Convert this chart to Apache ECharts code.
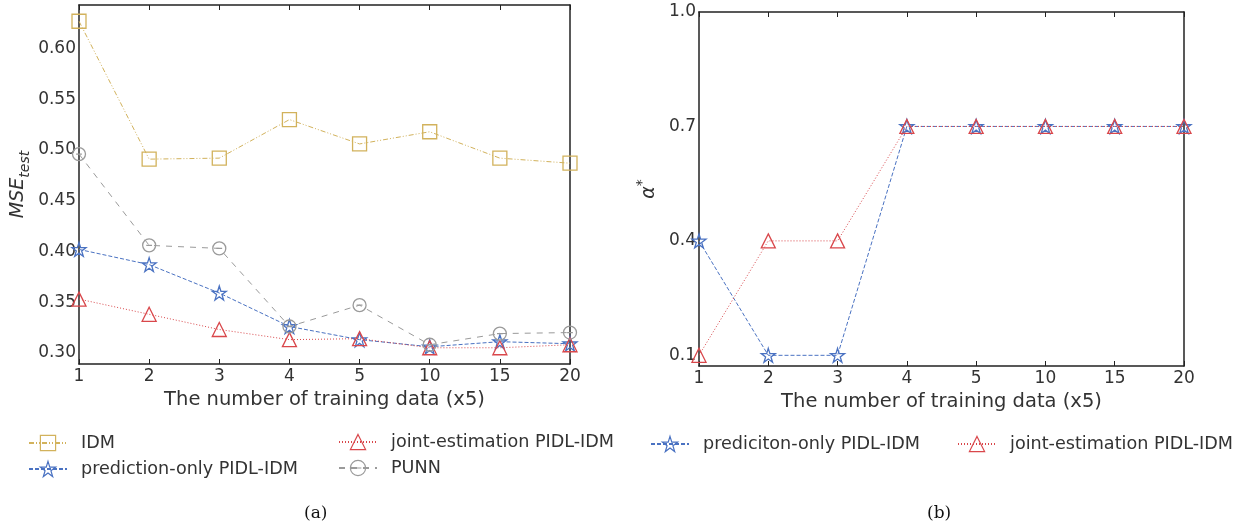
<!DOCTYPE html>
<html>
<head>
<meta charset="utf-8">
<script src="https://cdn.jsdelivr.net/npm/echarts@6/dist/echarts.min.js"></script>
<style>
  html, body { margin: 0; padding: 0; background: #fff; }
  #chart { width: 1246px; height: 526px; }
</style>
</head>
<body>
<div id="chart"></div>
<script>
// x categories (number of training data, x5)
const categories = ['1', '2', '3', '4', '5', '10', '15', '20'];

// (a) MSE on test set
const mseIdm = [0.627, 0.491, 0.492, 0.530, 0.506, 0.518, 0.492, 0.487];
const msePredOnly = [0.402, 0.387, 0.359, 0.326, 0.313, 0.306, 0.311, 0.309];
const mseJoint = [0.353, 0.338, 0.323, 0.313, 0.314, 0.305, 0.305, 0.308];
const msePunn = [0.496, 0.406, 0.403, 0.326, 0.347, 0.308, 0.319, 0.320];
const mseTicks = [0.30, 0.35, 0.40, 0.45, 0.50, 0.55, 0.60];

// (b) alpha*
const alphaPredOnly = [0.4, 0.1, 0.1, 0.7, 0.7, 0.7, 0.7, 0.7];
const alphaJoint = [0.1, 0.4, 0.4, 0.7, 0.7, 0.7, 0.7, 0.7];
const alphaTicks = [0.1, 0.4, 0.7, 1.0];

const TEXT = '#333333';
const AXIS = '#222222';
const C_IDM = '#d2b25c';
const C_PRED = '#4a72c2';
const C_JOINT = '#d9474b';
const C_PUNN = '#9a9a9a';

const STAR = 'path://M50,2 L61,36 L97,36 L68,57 L79,92 L50,71 L21,92 L32,57 L3,36 L39,36 Z';
const OMINUS = 'path://M0,50 A50,50 0 1 1 100,50 A50,50 0 1 1 0,50 Z M28,50 L72,50';

const chart = echarts.init(document.getElementById('chart'));

function xAxes(gridIndex) {
  return [
    {
      type: 'category', gridIndex: gridIndex, data: categories, boundaryGap: false,
      name: 'The number of training data (x5)', nameLocation: 'middle', nameGap: 26,
      nameTextStyle: { color: TEXT, fontSize: 19.5, fontFamily: 'DejaVu Sans' },
      axisLine: { lineStyle: { color: AXIS, width: 1.5 } },
      axisTick: { inside: true, length: 5, alignWithLabel: true, lineStyle: { color: AXIS } },
      axisLabel: { color: TEXT, fontSize: 17, fontFamily: 'DejaVu Sans', margin: 4 },
      splitLine: { show: false }
    },
    {
      type: 'category', gridIndex: gridIndex, data: categories, boundaryGap: false, position: 'top',
      axisLine: { lineStyle: { color: AXIS, width: 1.5 } },
      axisTick: { inside: true, length: 5, lineStyle: { color: AXIS } },
      axisLabel: { show: false },
      splitLine: { show: false }
    }
  ];
}

function yAxes(gridIndex, min, max, ticks, digits, nameCfg) {
  return [
    Object.assign({
      type: 'value', gridIndex: gridIndex, min: min, max: max,
      nameLocation: 'middle',
      axisLine: { show: true, lineStyle: { color: AXIS, width: 1.5 } },
      axisTick: { inside: true, length: 5, customValues: ticks, lineStyle: { color: AXIS } },
      axisLabel: {
        color: TEXT, fontSize: 17, fontFamily: 'DejaVu Sans', margin: 3,
        customValues: ticks, formatter: (v) => v.toFixed(digits)
      },
      splitLine: { show: false }
    }, nameCfg),
    {
      type: 'value', gridIndex: gridIndex, min: min, max: max, position: 'right',
      axisLine: { show: true, lineStyle: { color: AXIS, width: 1.5 } },
      axisTick: { inside: true, length: 5, customValues: ticks, lineStyle: { color: AXIS } },
      axisLabel: { show: false, customValues: ticks },
      splitLine: { show: false }
    }
  ];
}

function lineSeries(name, data, xi, yi, color, dash, symbol, size, z) {
  return {
    type: 'line', name: name, data: data, xAxisIndex: xi, yAxisIndex: yi,
    symbol: symbol, symbolSize: size, showAllSymbol: true, z: z,
    lineStyle: { color: color, width: 1, type: dash },
    itemStyle: { color: 'rgba(255,255,255,0)', borderColor: color, borderWidth: 1.3 },
    emphasis: { disabled: true },
    animation: false
  };
}

function legendItem(name, color, left, top) {
  return {
    data: [{
      name: name,
      itemStyle: { color: 'rgba(255,255,255,0)', borderColor: color, borderWidth: 1.2 }
    }],
    left: left, top: top, padding: 0,
    itemWidth: 38, itemHeight: 19, selectedMode: false,
    textStyle: { color: TEXT, fontSize: 17.6, fontFamily: 'DejaVu Sans', padding: [0, 0, 0, 9] }
  };
}

chart.setOption({
  backgroundColor: '#ffffff',
  animation: false,
  grid: [
    { left: 79, top: 5, width: 491, height: 359 },
    { left: 699, top: 12, width: 485, height: 354 }
  ],
  xAxis: xAxes(0).concat(xAxes(1)),
  yAxis: yAxes(0, 0.289, 0.643, mseTicks, 2, {
    name: '{a|MSE}{b|test}', nameGap: 50,
    nameTextStyle: {
      rich: {
        a: { fontSize: 19, fontStyle: 'italic', color: TEXT, fontFamily: 'DejaVu Sans', lineHeight: 20, verticalAlign: 'top' },
        b: { fontSize: 14, fontStyle: 'italic', color: TEXT, fontFamily: 'DejaVu Sans', lineHeight: 14, padding: [9, 0, 0, 0], verticalAlign: 'top' }
      }
    }
  }).concat(yAxes(1, 0.072, 1.0, alphaTicks, 1, {
    name: '{a|α}{b|*}', nameGap: 40,
    nameTextStyle: {
      rich: {
        a: { fontSize: 19, fontStyle: 'italic', color: TEXT, fontFamily: 'DejaVu Sans', lineHeight: 24, verticalAlign: 'bottom' },
        b: { fontSize: 14, color: TEXT, fontFamily: 'DejaVu Sans', lineHeight: 12, verticalAlign: 'top' }
      }
    }
  })),
  legend: [
    legendItem('IDM', C_IDM, 28, 434),
    legendItem('prediction-only PIDL-IDM', C_PRED, 28, 460),
    legendItem('joint-estimation PIDL-IDM', C_JOINT, 338, 433),
    legendItem('PUNN', C_PUNN, 338, 459),
    legendItem('prediciton-only PIDL-IDM', C_PRED, 650, 435),
    legendItem('joint-estimation PIDL-IDM ', C_JOINT, 957, 435)
  ],
  series: [
    lineSeries('IDM', mseIdm, 0, 0, C_IDM, [5, 2, 1, 2, 1, 2], 'rect', 14, 2),
    lineSeries('prediction-only PIDL-IDM', msePredOnly, 0, 0, C_PRED, [4, 2], STAR, 14, 3),
    lineSeries('joint-estimation PIDL-IDM', mseJoint, 0, 0, C_JOINT, [1, 2], 'triangle', 14, 4),
    lineSeries('PUNN', msePunn, 0, 0, C_PUNN, [6, 6], OMINUS, 13, 5),
    lineSeries('prediciton-only PIDL-IDM', alphaPredOnly, 2, 2, C_PRED, [4, 2], STAR, 14, 3),
    lineSeries('joint-estimation PIDL-IDM ', alphaJoint, 2, 2, C_JOINT, [1, 2], 'triangle', 14, 4)
  ],
  graphic: [
    { type: 'text', left: 304, top: 505, style: { text: '(a)', fill: '#111', fontSize: 17, fontFamily: 'DejaVu Serif' } },
    { type: 'text', left: 927, top: 505, style: { text: '(b)', fill: '#111', fontSize: 17, fontFamily: 'DejaVu Serif' } }
  ]
});
</script>
</body>
</html>
